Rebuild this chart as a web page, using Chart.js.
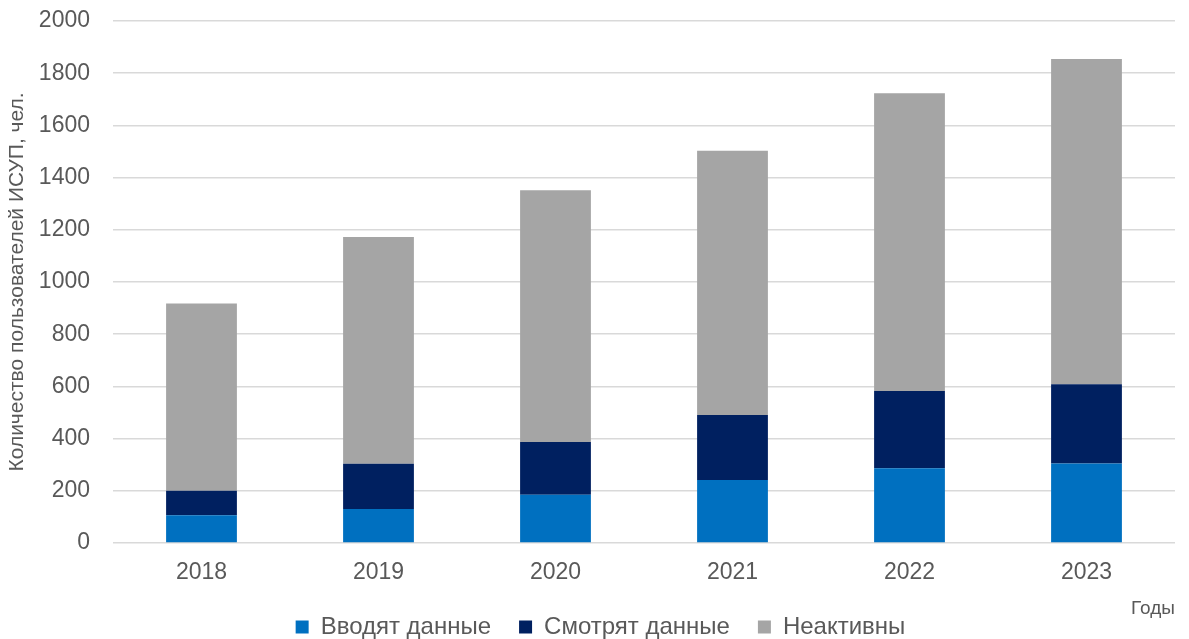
<!DOCTYPE html>
<html lang="ru">
<head>
    <meta charset="UTF-8">
    <title>Пользователи ИСУП</title>
    <script src="https://cdn.jsdelivr.net/npm/chart.js"></script>
    <style>
        html, body { margin: 0; padding: 0; background: #ffffff; }
        #wrap { width: 1189px; height: 639px; position: relative; }
    </style>
</head>
<body>
    <div id="wrap"><canvas id="usersChart"></canvas></div>

    <script>
        // Годы и число пользователей по группам
        const years = ['2018', '2019', '2020', '2021', '2022', '2023'];
        const enterData = [106, 130, 185, 241, 286, 305];
        const viewData = [94, 174, 202, 249, 296, 303];
        const inactive = [718, 868, 965, 1013, 1141, 1246];
        const seriesNames = ['Вводят данные', 'Смотрят данные', 'Неактивны'];

        const textColor = '#595959';
        const fontFamily = '"Liberation Sans", Arial, sans-serif';

        // подпись "Годы" справа под осью
        const axisNote = {
            id: 'axisNote',
            afterDraw(chart) {
                const ctx = chart.ctx;
                ctx.save();
                ctx.font = '19px ' + fontFamily;
                ctx.fillStyle = textColor;
                ctx.textAlign = 'right';
                ctx.textBaseline = 'middle';
                ctx.fillText('Годы', 1175, 609);
                ctx.restore();
            }
        };

        // легенда: фиксированная высота и небольшой сдвиг вправо
        const legendTweak = {
            id: 'legendTweak',
            afterInit(chart) {
                const lg = chart.legend;
                const fit = lg.fit.bind(lg);
                lg.fit = function () { fit(); this.height = 52; };
            },
            afterLayout(chart) {
                const lg = chart.legend;
                lg.left += 13;
                lg.right += 13;
            }
        };

        const ctx = document.getElementById('usersChart').getContext('2d');
        const usersChart = new Chart(ctx, {
            type: 'bar',
            data: {
                labels: years,
                datasets: [
                    { label: seriesNames[0], data: enterData, backgroundColor: '#0070C0' },
                    { label: seriesNames[1], data: viewData, backgroundColor: '#002060' },
                    { label: seriesNames[2], data: inactive, backgroundColor: '#A5A5A5' }
                ]
            },
            options: {
                responsive: true,
                maintainAspectRatio: false,
                animation: false,
                layout: { padding: { top: 21, right: 14, left: 0, bottom: 0 } },
                datasets: {
                    bar: { barPercentage: 0.4, categoryPercentage: 1.0 }
                },
                plugins: {
                    legend: {
                        position: 'bottom',
                        labels: {
                            color: textColor,
                            font: { size: 24, family: fontFamily },
                            boxWidth: 13,
                            boxHeight: 13,
                            padding: 28
                        }
                    },
                    tooltip: { enabled: false }
                },
                scales: {
                    x: {
                        stacked: true,
                        grid: { display: false, drawTicks: false },
                        border: { display: false },
                        ticks: {
                            color: textColor,
                            font: { size: 23, family: fontFamily },
                            padding: 16
                        },
                        afterFit(scale) { scale.height = 44; }
                    },
                    y: {
                        stacked: true,
                        min: 0,
                        max: 2000,
                        ticks: {
                            stepSize: 200,
                            color: textColor,
                            font: { size: 23, family: fontFamily },
                            padding: 23,
                            callback: (v) => String(v)
                        },
                        grid: { color: '#D9D9D9', lineWidth: 1.5, drawTicks: false },
                        border: { display: false },
                        title: {
                            display: true,
                            text: 'Количество пользователей ИСУП, чел.',
                            color: textColor,
                            font: { size: 21, family: fontFamily },
                            padding: { top: 5, bottom: 0 }
                        },
                        afterFit(scale) {
                            scale.width = 113;
                            scale.paddingTop = 0;
                        }
                    }
                }
            },
            plugins: [axisNote, legendTweak]
        });
    </script>
</body>
</html>
